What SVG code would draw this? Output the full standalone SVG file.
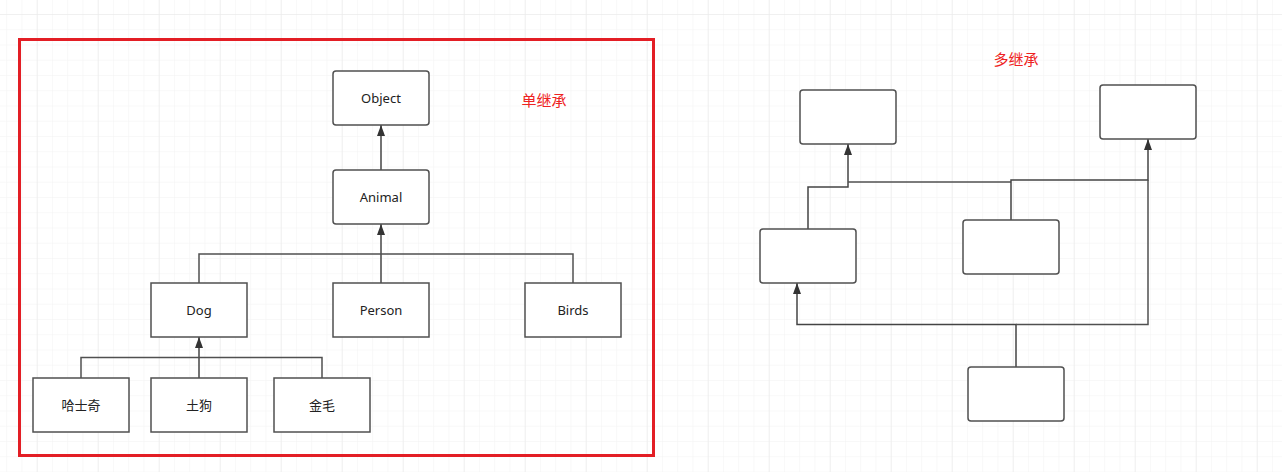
<svg xmlns="http://www.w3.org/2000/svg" width="1282" height="472" viewBox="0 0 1282 472">
<defs>
<pattern id="minor" x="36.7" y="14" width="15.25" height="15.25" patternUnits="userSpaceOnUse">
<path d="M0 0H15.25M0 0V15.25" fill="none" stroke="#f2f2f2" stroke-width="1"/>
</pattern>
<pattern id="major" x="36.7" y="14" width="61" height="61" patternUnits="userSpaceOnUse">
<path d="M0 0H61M0 0V61" fill="none" stroke="#e7e7e7" stroke-width="1"/>
</pattern>
<marker id="arr" markerWidth="12" markerHeight="10" refX="11" refY="4" orient="auto" markerUnits="userSpaceOnUse">
<path d="M0 0L11 4L0 8Z" fill="#333"/>
</marker>
</defs>
<style>
.box{fill:#fff;stroke:#505050;stroke-width:1.5}
.lbl{font-family:"Noto Sans","Noto Sans CJK SC",sans-serif;font-size:13px;fill:#222;text-anchor:middle;dominant-baseline:central}
.red{font-family:"Noto Sans CJK SC","Noto Sans",sans-serif;font-size:15px;fill:#ee2222;text-anchor:middle;dominant-baseline:central}
.ln{fill:none;stroke:#505050;stroke-width:1.5}
.la{fill:none;stroke:#444;stroke-width:1.5;marker-end:url(#arr)}
</style>
<rect width="1282" height="472" fill="#fff"/>
<rect width="1282" height="472" fill="url(#minor)"/>
<rect width="1282" height="472" fill="url(#major)"/>
<rect x="19.5" y="39.5" width="634" height="416" fill="none" stroke="#e31e25" stroke-width="3"/>
<text class="red" x="544" y="99">单继承</text>
<text class="red" x="1016" y="58">多继承</text>
<g id="connectors">
<path class="la" d="M381 170V125"/>
<path class="la" d="M381 283V224"/>
<path class="ln" d="M199 283V254H573V283"/>
<path class="la" d="M199 378V337"/>
<path class="ln" d="M81 378V357.5H322V378"/>
<path class="la" d="M808 229V187H848V144"/>
<path class="ln" d="M848 182H1011"/>
<path class="la" d="M1011 220V180H1148V139"/>
<path class="la" d="M1016 367V324.5H797V283"/>
<path class="ln" d="M1016 324.5H1148V180"/>
</g>
<g id="object"><rect class="box" x="333" y="71" width="96" height="54" rx="3"/><text class="lbl" x="381" y="98">Object</text></g>
<g id="animal"><rect class="box" x="333" y="170" width="96" height="54" rx="3"/><text class="lbl" x="381" y="197">Animal</text></g>
<g id="dog"><rect class="box" x="151" y="283" width="96" height="54"/><text class="lbl" x="199" y="310">Dog</text></g>
<g id="person"><rect class="box" x="333" y="283" width="96" height="54"/><text class="lbl" x="381" y="310">Person</text></g>
<g id="birds"><rect class="box" x="525" y="283" width="96" height="54"/><text class="lbl" x="573" y="310">Birds</text></g>
<g id="husky"><rect class="box" x="33" y="378" width="96" height="54"/><text class="lbl" x="81" y="405">哈士奇</text></g>
<g id="tugou"><rect class="box" x="151" y="378" width="96" height="54"/><text class="lbl" x="199" y="405">土狗</text></g>
<g id="jinmao"><rect class="box" x="274" y="378" width="96" height="54"/><text class="lbl" x="322" y="405">金毛</text></g>
<g id="m-a"><rect class="box" x="800" y="90" width="96" height="54" rx="3"/></g>
<g id="m-b"><rect class="box" x="1100" y="85" width="96" height="54" rx="3"/></g>
<g id="m-c"><rect class="box" x="760" y="229" width="96" height="54" rx="3"/></g>
<g id="m-d"><rect class="box" x="963" y="220" width="96" height="54" rx="3"/></g>
<g id="m-e"><rect class="box" x="968" y="367" width="96" height="54" rx="3"/></g>
</svg>
